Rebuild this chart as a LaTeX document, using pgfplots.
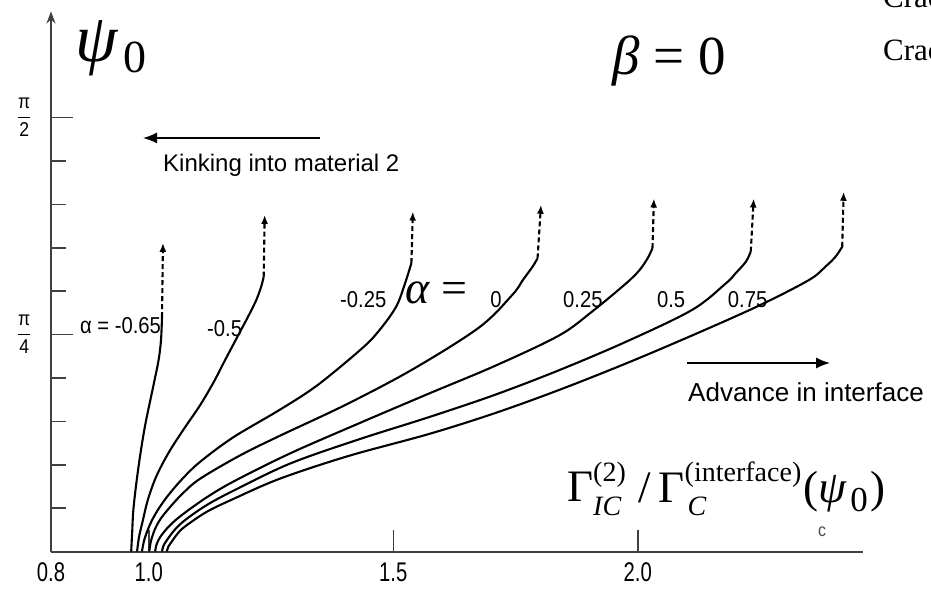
\documentclass[border=0pt]{standalone}
\usepackage{pgfplots}
\pgfplotsset{compat=1.18}
\usepackage{amsmath}
\usepackage{fontspec}
\usetikzlibrary{arrows.meta}
\setmainfont{Liberation Serif}
\newfontfamily\arial{Liberation Sans}
\newfontfamily\narrow[FakeStretch=0.88]{Liberation Sans}
\newfontfamily\ticknarrow[FakeStretch=0.75]{Liberation Sans}

% toughness-ratio label pieces
\newcommand{\supsub}[3]{\makebox[#1][l]{\rlap{\raisebox{20pt}{\fontsize{28}{28}\selectfont #2}}\raisebox{-13pt}{\fontsize{28}{28}\selectfont\itshape #3}}}

\begin{document}
\begin{tikzpicture}[x=1pt,y=1pt,
  curve/.style={line width=2.1pt, black, smooth, tension=0.55},
  tip/.style={line width=2.1pt, black, dash pattern=on 5pt off 3pt, -{Latex[length=9pt,width=7pt]}},
  lab/.style={anchor=base west, inner sep=0pt, font=\narrow\fontsize{23}{23}\selectfont},
]
\useasboundingbox (0,0) rectangle (931,589);
\begin{axis}[
  at={(51pt,37.5pt)}, anchor=south west,
  x=489pt, y=4.822pt,
  xmin=0.8, xmax=2.46, ymin=0, ymax=112,
  clip=false,
  axis x line=bottom, axis y line=left,
  axis line style={line width=2pt, black!75},
  x axis line style={-},
  y axis line style={-{Stealth[length=12pt,width=9pt]}},
  tick align=inside,
  major tick length=22pt, minor tick length=15pt,
  tick style={line width=1.6pt, black!75},
  xtick={0.8,1.0,1.5,2.0},
  xticklabels={0.8,1.0,1.5,2.0},
  xticklabel style={font=\ticknarrow\fontsize{27}{27}\selectfont, yshift=-8pt},
  ytick={45,90},
  yticklabels={$\dfrac{\text{π}}{\text{4}}$,$\dfrac{\text{π}}{\text{2}}$},
  minor ytick={9,18,27,36,54,63,72,81},
  yticklabel style={font=\narrow\fontsize{20}{20}\selectfont, xshift=-16pt},
]
% psi_0 (degrees) against the toughness ratio, one curve per alpha
% alpha = -0.65
\addplot[curve] coordinates {(0.964,0) (0.966,4) (0.969,9.3) (0.979,17.6) (0.992,25.9)
  (1.009,34.2) (1.020,39.7) (1.025,43.9) (1.027,48.6)};
\addplot[tip] coordinates {(1.027,48.6) (1.029,64.0)};
% alpha = -0.5
\addplot[curve] coordinates {(0.976,0) (0.980,3) (0.988,6.5) (0.998,10.7) (1.015,15.5)
  (1.040,20.4) (1.071,25.3) (1.104,30.2) (1.132,35) (1.156,39.7) (1.180,44.3) (1.203,48.7)
  (1.220,52.2) (1.230,55) (1.235,57)};
\addplot[tip] coordinates {(1.235,57) (1.237,69.8)};
% alpha = -0.25
\addplot[curve] coordinates {(0.986,0) (0.991,2.5) (1.002,5.5) (1.016,8.2) (1.037,11.3)
  (1.068,15) (1.105,18.6) (1.173,23.7) (1.268,29.4) (1.345,34.5) (1.438,42.3) (1.474,46.2)
  (1.506,50.8) (1.523,55.3) (1.537,59.8)};
\addplot[tip] coordinates {(1.537,59.8) (1.540,70.5)};
% alpha = 0
\addplot[curve] coordinates {(1.001,0) (1.004,2) (1.012,4.5) (1.023,6.6) (1.040,8.8)
  (1.068,11.9) (1.105,15.1) (1.188,20) (1.268,24) (1.404,30.5) (1.540,37.8)
  (1.676,46.5) (1.744,53.3) (1.765,56.3) (1.785,59.1) (1.795,60.8)};
\addplot[tip] coordinates {(1.795,60.8) (1.802,71.9)};
% alpha = 0.25
\addplot[curve] coordinates {(1.013,0) (1.016,1.5) (1.024,3.1) (1.042,5.3) (1.068,7.6)
  (1.118,11.2) (1.173,14.5) (1.288,20.3) (1.428,26.5) (1.574,32.8) (1.708,38.5)
  (1.839,44.8) (1.907,49.8) (1.976,55.6) (2.003,58.3) (2.020,60.8) (2.030,62.9)};
\addplot[tip] coordinates {(2.030,62.9) (2.033,73.2)};
% alpha = 0.5
\addplot[curve] coordinates {(1.027,0) (1.030,1.2) (1.038,2.5) (1.053,4.5) (1.074,6.5)
  (1.118,9.6) (1.173,12.6) (1.288,18.2) (1.428,23.2) (1.574,27.9) (1.708,32.5)
  (1.839,37.6) (1.976,43.5) (2.111,50.1) (2.180,55.6) (2.200,57.7) (2.221,60.1) (2.231,62.2)};
\addplot[tip] coordinates {(2.231,62.2) (2.237,73.2)};
% alpha = 0.75
\addplot[curve] coordinates {(1.037,0) (1.040,1) (1.048,2.2) (1.058,3.6) (1.073,5.1)
  (1.118,8.2) (1.173,10.9) (1.268,15.1) (1.408,19.8) (1.574,24.4) (1.708,28.7)
  (1.839,33.5) (1.976,39.0) (2.111,44.8) (2.248,51.0) (2.350,56.3) (2.384,59.1)
  (2.404,61.1) (2.418,63.2)};
\addplot[tip] coordinates {(2.418,63.2) (2.421,74.6)};

% curve labels
\node[lab] at (axis cs:0.859,45.3) {α = -0.65};
\node[lab] at (axis cs:1.119,44.5) {-0.5};
\node[lab] at (axis cs:1.391,50.7) {-0.25};
\node[lab] at (axis cs:1.698,50.7) {0};
\node[lab] at (axis cs:1.847,50.7) {0.25};
\node[lab] at (axis cs:2.039,50.7) {0.5};
\node[lab] at (axis cs:2.184,50.5) {0.75};
\node[anchor=base west, inner sep=0pt, font=\fontsize{46}{46}\selectfont]
  at (axis cs:1.524,51.5) {\textit{α} =};
\end{axis}

% annotations
\node[anchor=base west, inner sep=0pt, font=\fontsize{68}{68}\selectfont] at (75,527.5) {\textit{ψ}};
\node[anchor=base west, inner sep=0pt, font=\fontsize{46}{46}\selectfont] at (123,516) {0};
\node[anchor=base west, inner sep=0pt, font=\fontsize{55}{55}\selectfont] at (612,514) {\textit{β} = 0};
\node[anchor=base west, inner sep=0pt, font=\fontsize{45}{45}\selectfont] at (567,87)
  {Γ\supsub{34pt}{(2)}{IC}\hspace{11pt}/\hspace{8pt}Γ\supsub{116pt}{(interface)}{\hspace{3pt}C}\hspace{3pt}(\textit{ψ}\hspace{3pt}\raisebox{-10pt}{\fontsize{35}{35}\selectfont 0}\hspace{3pt})};
\node[anchor=base west, inner sep=0pt, font=\arial\fontsize{24}{24}\selectfont] at (163,417) {Kinking into material 2};
\draw[line width=1.5pt, -{Latex[length=14pt,width=11pt]}] (320,451) -- (143,451);
\node[anchor=base west, inner sep=0pt, font=\arial\fontsize{26}{26}\selectfont] at (688,187) {Advance in interface};
\draw[line width=1.5pt, -{Latex[length=14pt,width=11pt]}] (687,226) -- (830,226);
\node[font=\narrow\fontsize{18}{18}\selectfont, text=black!70] at (822,57) {c};
\begin{scope}
  \clip (0,0) rectangle (931,589);
  \node[anchor=base west, inner sep=0pt, font=\fontsize{31}{31}\selectfont] at (883,581) {Crack};
  \node[anchor=base west, inner sep=0pt, font=\fontsize{31}{31}\selectfont] at (883,528) {Crack};
\end{scope}
\end{tikzpicture}
\end{document}
